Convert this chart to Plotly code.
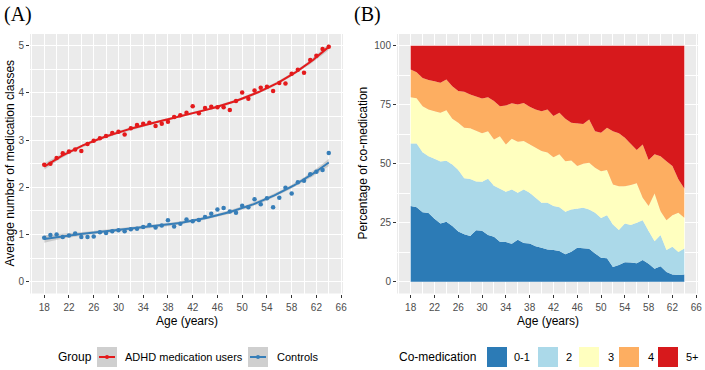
import numpy as np
import plotly.graph_objects as go

# ---------------- data ----------------
ages = list(range(18, 65))

adhd_mean = [2.48, 2.50, 2.62, 2.72, 2.76, 2.80, 2.77, 2.92, 2.99, 3.04,
             3.09, 3.15, 3.18, 3.12, 3.25, 3.32, 3.35, 3.37, 3.30, 3.35,
             3.39, 3.49, 3.53, 3.58, 3.72, 3.57, 3.68, 3.71, 3.70, 3.70,
             3.64, 3.83, 4.01, 3.88, 4.05, 4.11, 4.13, 4.04, 4.21, 4.20,
             4.41, 4.49, 4.43, 4.70, 4.79, 4.93, 4.98]

control_mean = [0.93, 0.99, 1.00, 0.95, 0.98, 1.02, 0.95, 0.95, 0.96, 1.05,
                1.03, 1.07, 1.09, 1.07, 1.11, 1.12, 1.16, 1.20, 1.15, 1.19,
                1.30, 1.17, 1.23, 1.32, 1.28, 1.31, 1.37, 1.44, 1.53, 1.56,
                1.49, 1.46, 1.61, 1.58, 1.75, 1.64, 1.77, 1.58, 1.78, 1.99,
                1.87, 2.11, 2.14, 2.28, 2.33, 2.37, 2.73]

share_0_1 = [32.1, 31.6, 29.4, 29.1, 26.7, 24.7, 25.4, 23.6, 21.3, 20.1,
             19.4, 21.8, 21.6, 19.8, 19.1, 16.9, 16.8, 16.1, 17.8, 16.4,
             16.2, 15.0, 14.4, 13.7, 13.4, 13.0, 11.6, 12.7, 14.4, 14.1,
             14.0, 12.0, 10.2, 9.9, 6.2, 7.1, 8.2, 8.1, 7.8, 9.2,
             7.6, 5.5, 6.6, 4.1, 3.1, 2.8, 3.1]
share_2 = [26.5, 27.0, 25.5, 24.1, 25.4, 26.3, 25.9, 26.1, 26.0, 23.8,
           24.1, 20.7, 20.8, 23.8, 21.6, 22.5, 21.3, 23.0, 19.9, 22.7,
           21.5, 20.6, 19.1, 19.8, 18.7, 18.6, 18.1, 17.9, 16.5, 17.3,
           16.6, 17.2, 16.8, 18.3, 18.1, 14.8, 16.5, 15.9, 17.2, 16.9,
           13.9, 11.7, 13.2, 9.3, 11.7, 9.8, 11.0]
share_3 = [19.6, 19.2, 19.5, 19.8, 20.2, 20.6, 21.4, 19.4, 20.1, 21.4,
           21.5, 21.3, 20.5, 20.2, 19.6, 22.3, 20.1, 21.5, 21.6, 20.5,
           20.5, 21.2, 21.9, 21.3, 20.7, 22.4, 21.4, 20.8, 18.1, 18.6,
           19.8, 19.1, 19.8, 19.1, 16.9, 18.6, 15.8, 17.0, 16.7, 9.5,
           10.6, 20.2, 10.1, 12.7, 13.4, 16.6, 13.0]
share_4 = [11.8, 11.0, 12.0, 12.5, 12.7, 12.7, 13.0, 13.8, 13.4, 15.2,
           14.4, 14.9, 14.8, 14.4, 16.3, 12.7, 16.5, 15.0, 15.8, 16.2,
           16.0, 16.2, 16.9, 18.2, 17.4, 17.6, 18.0, 16.0, 18.1, 16.9,
           18.4, 15.5, 16.3, 18.0, 22.6, 22.4, 20.5, 17.2, 14.1, 22.6,
           19.5, 16.6, 23.3, 25.0, 20.8, 14.2, 12.4]
share_5plus = [10.0, 11.2, 13.6, 14.5, 15.0, 15.7, 14.3, 17.1, 19.2, 19.5,
               20.6, 21.3, 22.3, 21.8, 23.4, 25.6, 25.3, 24.4, 24.9, 24.2,
               25.8, 27.0, 27.7, 27.0, 29.8, 28.4, 30.9, 32.6, 32.9, 33.1,
               31.2, 36.2, 36.9, 34.7, 36.2, 37.1, 39.0, 41.8, 44.2, 41.8,
               48.4, 46.0, 46.8, 48.9, 51.0, 56.6, 60.5]

x_ticks = list(range(18, 67, 4))
ya_ticks = [0, 1, 2, 3, 4, 5]
yb_ticks = [0, 25, 50, 75, 100]

group_names = ["ADHD medication users", "Controls"]
group_colors = ["#E41A1C", "#377EB8"]
comed_names = ["0-1", "2", "3", "4", "5+"]
comed_colors = ["#2C7BB6", "#ABD9E9", "#FFFFBF", "#FDAE61", "#D7191C"]

# ---------------- helpers ----------------
W, H = 705, 370
def px(x): return x / W
def py(y): return 1 - y / H

def smooth_fit(x, y, grid, deg=3):
    x = np.asarray(x, float); y = np.asarray(y, float)
    c, s = x.mean(), x.std()
    X = np.vander((x - c) / s, deg + 1)
    beta, *_ = np.linalg.lstsq(X, y, rcond=None)
    resid = y - X @ beta
    s2 = resid @ resid / (len(x) - deg - 1)
    XtXi = np.linalg.inv(X.T @ X)
    G = np.vander((grid - c) / s, deg + 1)
    fit = G @ beta
    se = np.sqrt(np.einsum('ij,jk,ik->i', G, XtXi, G) * s2)
    return fit, fit - 1.96 * se, fit + 1.96 * se

fig = go.Figure()

# ---------------- panel A ----------------
grid = np.linspace(min(ages), max(ages), 200)
for name, vals, col in zip(group_names, [adhd_mean, control_mean], group_colors):
    fit, lo, hi = smooth_fit(ages, vals, grid)
    fig.add_trace(go.Scatter(x=grid, y=lo, mode='lines', line=dict(width=0),
                             showlegend=False, hoverinfo='skip', xaxis='x', yaxis='y'))
    fig.add_trace(go.Scatter(x=grid, y=hi, mode='lines', line=dict(width=0),
                             fill='tonexty', fillcolor='rgba(153,153,153,0.4)',
                             showlegend=False, hoverinfo='skip', xaxis='x', yaxis='y'))
    fig.add_trace(go.Scatter(x=ages, y=vals, mode='markers', name=name,
                             marker=dict(color=col, size=4.5), showlegend=False,
                             xaxis='x', yaxis='y'))
    fig.add_trace(go.Scatter(x=grid, y=fit, mode='lines', name=name,
                             line=dict(color=col, width=2), showlegend=False,
                             xaxis='x', yaxis='y'))

# ---------------- panel B ----------------
for i, (name, vals, col) in enumerate(zip(comed_names,
        [share_0_1, share_2, share_3, share_4, share_5plus], comed_colors)):
    kw = dict(groupnorm='percent') if i == 0 else {}
    fig.add_trace(go.Scatter(x=ages, y=vals, name=name, stackgroup='b', mode='lines',
                             line=dict(width=0, color=col), fillcolor=col,
                             showlegend=False, xaxis='x2', yaxis='y2', **kw))

# ---------------- axes ----------------
tickfont = dict(family="Liberation Sans, Arial, sans-serif", size=10, color="#4D4D4D")
ydom = [py(293.5), py(34)]

def xaxis(domain, anchor):
    return dict(domain=domain, anchor=anchor, range=[15.7, 66.3], tickmode='array',
                tickvals=x_ticks, ticks='outside', ticklen=3, tickwidth=1,
                tickcolor='#333333', tickfont=tickfont, ticklabelstandoff=1, showgrid=True,
                gridcolor='white', gridwidth=1.1, zeroline=False, showline=False,
                minor=dict(tickmode='array', tickvals=list(range(16, 67, 2)),
                           showgrid=True, gridcolor='white', gridwidth=0.5, ticks=''))

def yaxis(domain, anchor, rng, ticks, minor):
    return dict(domain=domain, anchor=anchor, range=rng, tickmode='array',
                tickvals=ticks, ticks='outside', ticklen=3, tickwidth=1,
                tickcolor='#333333', tickfont=tickfont, showgrid=True,
                gridcolor='white', gridwidth=1.1, zeroline=False, showline=False,
                minor=dict(tickmode='array', tickvals=minor, showgrid=True,
                           gridcolor='white', gridwidth=0.5, ticks=''))

fig.update_layout(
    width=W, height=H,
    margin=dict(l=0, r=0, t=0, b=0, autoexpand=False),
    paper_bgcolor='white', plot_bgcolor='#EBEBEB',
    showlegend=False,
    font=dict(family="Liberation Sans, Arial, sans-serif", size=12, color='black'),
    xaxis=xaxis([px(30), px(343)], 'y'),
    yaxis=yaxis(ydom, 'x', [-0.25, 5.25], ya_ticks, [0.5, 1.5, 2.5, 3.5, 4.5]),
    xaxis2=xaxis([px(397), px(698)], 'y2'),
    yaxis2=yaxis(ydom, 'x2', [-5, 105], yb_ticks, [12.5, 37.5, 62.5, 87.5]),
)

ann = []
def text(x, y, s, size=12, xanchor='left', angle=0, family="Liberation Sans, Arial, sans-serif"):
    ann.append(dict(x=px(x), y=py(y), xref='paper', yref='paper', text=s, showarrow=False,
                    xanchor=xanchor, yanchor='middle', textangle=angle,
                    font=dict(family=family, size=size, color='black')))

# panel tags
text(2, 14, "(A)", size=20, family="Liberation Serif, Times New Roman, serif")
text(352, 14, "(B)", size=20, family="Liberation Serif, Times New Roman, serif")
# axis titles
text(9, 163.5, "Average number of medication classes", xanchor='center', angle=-90)
text(186.5, 321, "Age (years)", xanchor='center')
text(362, 163.5, "Percentage of co-medication", xanchor='center', angle=-90)
text(547.5, 321, "Age (years)", xanchor='center')

# legend A
shapes = []
ly = 357
text(56, ly, "Group")
keyA_x = [97, 248]
labA_x = [123, 275]
for kx, lx, name, col in zip(keyA_x, labA_x, group_names, group_colors):
    shapes.append(dict(type='rect', xref='paper', yref='paper', x0=px(kx), x1=px(kx + 20),
                       y0=py(ly + 10), y1=py(ly - 10), fillcolor='#CFCFCF', line=dict(width=0)))
    shapes.append(dict(type='line', xref='paper', yref='paper', x0=px(kx + 2), x1=px(kx + 18),
                       y0=py(ly), y1=py(ly), line=dict(color=col, width=2)))
    shapes.append(dict(type='circle', xref='paper', yref='paper', x0=px(kx + 8), x1=px(kx + 12),
                       y0=py(ly + 2), y1=py(ly - 2), fillcolor=col, line=dict(width=0)))
    text(lx, ly, name, size=11)

# legend B
text(397, ly, "Co-medication")
keyB_x = [487, 538, 579, 619, 658]
labB_x = [512, 564, 606, 646, 684]
for kx, lx, name, col in zip(keyB_x, labB_x, comed_names, comed_colors):
    shapes.append(dict(type='rect', xref='paper', yref='paper', x0=px(kx), x1=px(kx + 20),
                       y0=py(ly + 10), y1=py(ly - 10), fillcolor=col, line=dict(width=0)))
    text(lx, ly, name, size=11)

fig.update_layout(annotations=ann, shapes=shapes)
fig.write_html("out.html", config={'displayModeBar': False},
               post_script="document.body.style.margin='0';document.body.style.padding='0';"
                           "document.body.style.overflow='hidden';")
